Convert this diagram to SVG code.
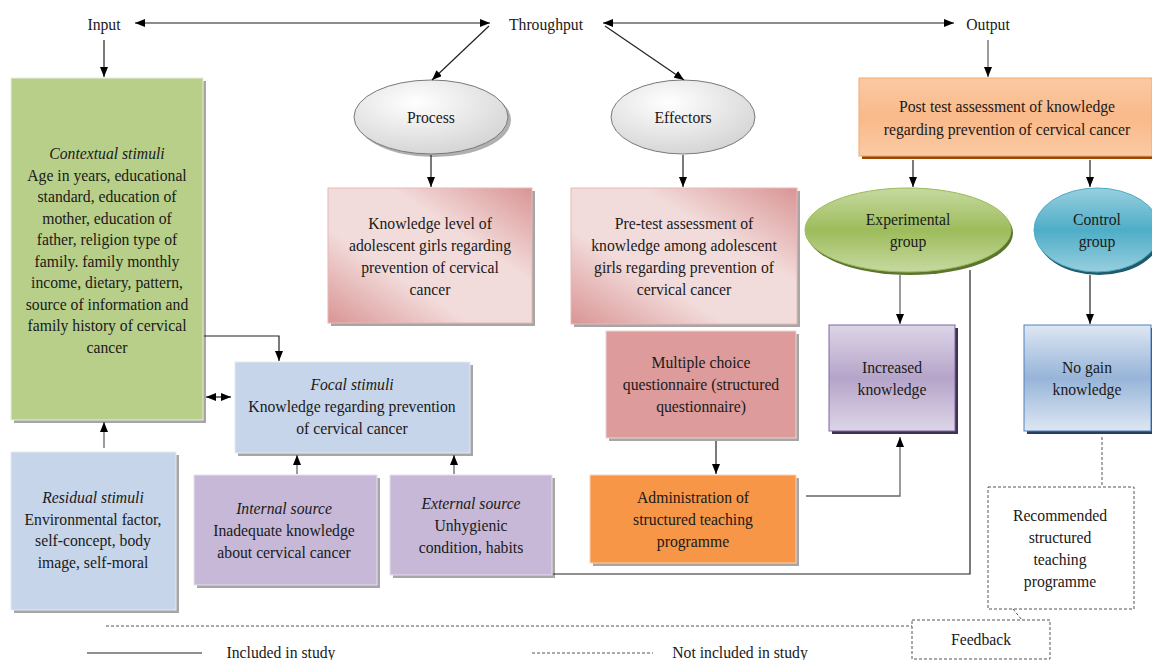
<svg xmlns="http://www.w3.org/2000/svg" width="1152" height="660" viewBox="0 0 1152 660">
<defs>
<style>
text{font-family:"Liberation Serif","Times New Roman",serif;font-size:15.7px;fill:#1a1a1a;text-anchor:middle}
.it{font-style:italic}
.ln{fill:none;stroke:#222;stroke-width:1.2}
.gl{fill:none;stroke:#666;stroke-width:1.3}
.dash{fill:none;stroke:#555;stroke-width:1;stroke-dasharray:3,2}
.sh{fill:#a6a6a6}
</style>
<marker id="ah" viewBox="0 0 10 8" refX="10" refY="4" markerWidth="10" markerHeight="8" markerUnits="userSpaceOnUse" orient="auto-start-reverse"><path d="M0,0 L10,4 L0,8 z" fill="#000"/></marker>
<radialGradient id="gEll" cx="0.4" cy="0.3" r="0.8"><stop offset="0" stop-color="#ffffff"/><stop offset="1" stop-color="#d0d0d0"/></radialGradient>
<linearGradient id="gPink" x1="0" y1="1" x2="1" y2="0"><stop offset="0" stop-color="#d99594"/><stop offset="0.35" stop-color="#f2dcdb"/><stop offset="0.65" stop-color="#f2dcdb"/><stop offset="1" stop-color="#d99594"/></linearGradient>
<linearGradient id="gPeach" x1="0" y1="0" x2="0" y2="1"><stop offset="0" stop-color="#fbcaa3"/><stop offset="0.5" stop-color="#f9b98a"/><stop offset="1" stop-color="#fbcaa3"/></linearGradient>
<linearGradient id="gPurp" x1="0" y1="0" x2="0" y2="1"><stop offset="0" stop-color="#ddd5e7"/><stop offset="0.5" stop-color="#b5a4c9"/><stop offset="1" stop-color="#ddd5e7"/></linearGradient>
<linearGradient id="gBlue" x1="0" y1="0" x2="0" y2="1"><stop offset="0" stop-color="#dde7f3"/><stop offset="0.5" stop-color="#97b4d8"/><stop offset="1" stop-color="#dde7f3"/></linearGradient>
<linearGradient id="gGreen" x1="0" y1="0" x2="0" y2="1"><stop offset="0" stop-color="#c6d9a0"/><stop offset="0.5" stop-color="#9dbc5b"/><stop offset="1" stop-color="#c6d9a0"/></linearGradient>
<linearGradient id="gCyan" x1="0" y1="0" x2="0" y2="1"><stop offset="0" stop-color="#98cfdf"/><stop offset="0.5" stop-color="#4eadc7"/><stop offset="1" stop-color="#98cfdf"/></linearGradient>
</defs>
<rect width="1152" height="660" fill="#fff"/>

<g id="labels-top" font-family="Liberation Serif, serif">
<text x="104" y="30">Input</text>
<text x="546" y="30">Throughput</text>
<text x="988" y="30">Output</text>
</g>

<g id="contextual" font-family="Liberation Serif, serif">
<rect class="sh" x="14" y="81" width="192" height="342" fill="#9fae86"/>
<rect x="11" y="78" width="192" height="342" fill="#b8cf8a" stroke="#e8eedd" stroke-width="1"/>
<text x="107" y="159"><tspan class="it">Contextual stimuli</tspan><tspan x="107" dy="21.5">Age in years, educational</tspan><tspan x="107" dy="21.5">standard, education of</tspan><tspan x="107" dy="21.5">mother, education of</tspan><tspan x="107" dy="21.5">father, religion type of</tspan><tspan x="107" dy="21.5">family. family monthly</tspan><tspan x="107" dy="21.5">income, dietary, pattern,</tspan><tspan x="107" dy="21.5">source of information and</tspan><tspan x="107" dy="21.5">family history of cervical</tspan><tspan x="107" dy="21.5">cancer</tspan></text>
</g>

<g id="residual" font-family="Liberation Serif, serif">
<rect class="sh" x="14" y="455" width="165" height="158" fill="#9aa5b2"/>
<rect x="11" y="452" width="165" height="158" fill="#c6d5e9" stroke="#e4ebf4" stroke-width="1"/>
<text x="93" y="503"><tspan class="it">Residual stimuli</tspan><tspan x="93" dy="21.5">Environmental factor,</tspan><tspan x="93" dy="21.5">self-concept, body</tspan><tspan x="93" dy="21.5">image, self-moral</tspan></text>
</g>

<g id="focal" font-family="Liberation Serif, serif">
<rect class="sh" x="238" y="365" width="235" height="91" fill="#9aa5b2"/>
<rect x="235" y="362" width="235" height="91" fill="#c6d5e9" stroke="#e4ebf4" stroke-width="1"/>
<text x="352" y="390"><tspan class="it">Focal stimuli</tspan><tspan x="352" dy="22">Knowledge regarding prevention</tspan><tspan x="352" dy="22">of cervical cancer</tspan></text>
</g>

<g id="internal" font-family="Liberation Serif, serif">
<rect class="sh" x="197" y="478" width="183" height="110" fill="#a49ab0"/>
<rect x="194" y="475" width="183" height="110" fill="#c6b8d6" stroke="#e6e0ee" stroke-width="1"/>
<text x="284" y="514"><tspan class="it">Internal source</tspan><tspan x="284" dy="22">Inadequate knowledge</tspan><tspan x="284" dy="22">about cervical cancer</tspan></text>
</g>

<g id="external" font-family="Liberation Serif, serif">
<rect class="sh" x="393" y="478" width="162" height="100" fill="#a49ab0"/>
<rect x="390" y="475" width="162" height="100" fill="#c6b8d6" stroke="#e6e0ee" stroke-width="1"/>
<text x="471" y="509"><tspan class="it">External source</tspan><tspan x="471" dy="22">Unhygienic</tspan><tspan x="471" dy="22">condition, habits</tspan></text>
</g>

<g id="process" font-family="Liberation Serif, serif">
<ellipse cx="434" cy="120" rx="77" ry="37" fill="#b0b0b0"/>
<ellipse cx="431" cy="117" rx="77" ry="37" fill="url(#gEll)" stroke="#7a7a7a" stroke-width="1"/>
<text x="431" y="123">Process</text>
</g>

<g id="effectors" font-family="Liberation Serif, serif">
<ellipse cx="683" cy="117" rx="72" ry="37" fill="url(#gEll)" stroke="#7a7a7a" stroke-width="1"/>
<text x="683" y="123">Effectors</text>
</g>

<g id="knowledge-level" font-family="Liberation Serif, serif">
<rect class="sh" x="331" y="191" width="204" height="135" fill="#b98a8a"/>
<rect x="328" y="188" width="204" height="135" fill="url(#gPink)" stroke="#e8b8b8" stroke-width="1"/>
<text x="430" y="229"><tspan>Knowledge level of</tspan><tspan x="430" dy="22">adolescent girls regarding</tspan><tspan x="430" dy="22">prevention of cervical</tspan><tspan x="430" dy="22">cancer</tspan></text>
</g>

<g id="pretest" font-family="Liberation Serif, serif">
<rect class="sh" x="574" y="191" width="226" height="136" fill="#b98a8a"/>
<rect x="571" y="188" width="226" height="136" fill="url(#gPink)" stroke="#e8b8b8" stroke-width="1"/>
<text x="684" y="229"><tspan>Pre-test assessment of</tspan><tspan x="684" dy="22">knowledge among adolescent</tspan><tspan x="684" dy="22">girls regarding prevention of</tspan><tspan x="684" dy="22">cervical cancer</tspan></text>
</g>

<g id="mcq" font-family="Liberation Serif, serif">
<rect class="sh" x="609" y="334" width="190" height="107" fill="#b08585"/>
<rect x="606" y="331" width="190" height="107" fill="#dd9b9b" stroke="#f2d4d4" stroke-width="1"/>
<text x="701" y="368"><tspan>Multiple choice</tspan><tspan x="701" dy="22">questionnaire (structured</tspan><tspan x="701" dy="22">questionnaire)</tspan></text>
</g>

<g id="administration" font-family="Liberation Serif, serif">
<rect class="sh" x="593" y="478" width="206" height="88" fill="#c9a58c"/>
<rect x="590" y="475" width="206" height="88" fill="#f79646" stroke="#fbd3b3" stroke-width="1"/>
<text x="693" y="503"><tspan>Administration of</tspan><tspan x="693" dy="22">structured teaching</tspan><tspan x="693" dy="22">programme</tspan></text>
</g>

<g id="posttest" font-family="Liberation Serif, serif">
<rect x="862" y="81" width="293" height="78" fill="#984806"/>
<rect x="859" y="78" width="293" height="78" fill="url(#gPeach)" stroke="#f6a86a" stroke-width="1"/>
<text x="1007" y="112"><tspan>Post test assessment of knowledge</tspan><tspan x="1007" dy="23">regarding prevention of cervical cancer</tspan></text>
</g>

<g id="experimental" font-family="Liberation Serif, serif">
<ellipse cx="910" cy="233" rx="103" ry="42" fill="#5d7430"/>
<ellipse cx="908" cy="230" rx="103" ry="42" fill="url(#gGreen)" stroke="#9bbb59" stroke-width="1"/>
<text x="908" y="225"><tspan>Experimental</tspan><tspan x="908" dy="22">group</tspan></text>
</g>

<g id="control" font-family="Liberation Serif, serif">
<ellipse cx="1099" cy="233" rx="63" ry="42" fill="#215a69"/>
<ellipse cx="1097" cy="230" rx="63" ry="42" fill="url(#gCyan)" stroke="#4bacc6" stroke-width="1"/>
<text x="1097" y="225"><tspan>Control</tspan><tspan x="1097" dy="22">group</tspan></text>
</g>

<g id="increased" font-family="Liberation Serif, serif">
<rect x="832" y="328" width="126" height="106" fill="#3f3151"/>
<rect x="829" y="325" width="126" height="106" fill="url(#gPurp)" stroke="#8064a2" stroke-width="1"/>
<text x="892" y="373"><tspan>Increased</tspan><tspan x="892" dy="22">knowledge</tspan></text>
</g>

<g id="nogain" font-family="Liberation Serif, serif">
<rect x="1027" y="328" width="127" height="106" fill="#243f60"/>
<rect x="1024" y="325" width="127" height="106" fill="url(#gBlue)" stroke="#4f81bd" stroke-width="1"/>
<text x="1087" y="373"><tspan>No gain</tspan><tspan x="1087" dy="22">knowledge</tspan></text>
</g>

<g id="recommended" font-family="Liberation Serif, serif">
<rect class="dash" x="988" y="487" width="146" height="122"/>
<text x="1060" y="521"><tspan>Recommended</tspan><tspan x="1060" dy="22">structured</tspan><tspan x="1060" dy="22">teaching</tspan><tspan x="1060" dy="22">programme</tspan></text>
</g>

<g id="feedback" font-family="Liberation Serif, serif">
<rect class="dash" x="912" y="620" width="138" height="39"/>
<text x="981" y="645">Feedback</text>
</g>

<g id="connectors">
<line class="gl" x1="135" y1="23" x2="490" y2="23" marker-start="url(#ah)" marker-end="url(#ah)"/>
<line class="gl" x1="603" y1="23" x2="954" y2="23" marker-start="url(#ah)" marker-end="url(#ah)"/>
<line class="ln" x1="489" y1="26" x2="432" y2="80" marker-end="url(#ah)"/>
<line class="ln" x1="605" y1="26" x2="684" y2="80" marker-end="url(#ah)"/>
<line class="ln" x1="104" y1="40" x2="104" y2="77" marker-end="url(#ah)"/>
<line class="gl" x1="988" y1="40" x2="988" y2="77" marker-end="url(#ah)"/>
<line class="ln" x1="431" y1="155" x2="431" y2="187" marker-end="url(#ah)"/>
<line class="ln" x1="683" y1="155" x2="683" y2="187" marker-end="url(#ah)"/>
<line class="ln" x1="913" y1="160" x2="913" y2="187" marker-end="url(#ah)"/>
<line class="ln" x1="1090" y1="160" x2="1090" y2="187" marker-end="url(#ah)"/>
<line class="gl" x1="900" y1="275" x2="900" y2="324" marker-end="url(#ah)"/>
<line class="ln" x1="1090" y1="275" x2="1090" y2="324" marker-end="url(#ah)"/>
<polyline class="ln" points="970,270 970,574 553,574"/>
<line class="ln" x1="716" y1="441" x2="716" y2="474" marker-end="url(#ah)"/>
<polyline class="gl" points="806,496 900,496 900,437" marker-end="url(#ah)"/>
<polyline class="ln" points="204,336 279,336 279,361" marker-end="url(#ah)"/>
<line class="ln" x1="206" y1="397" x2="231" y2="397" marker-start="url(#ah)" marker-end="url(#ah)"/>
<line class="gl" x1="104" y1="448" x2="104" y2="422" marker-end="url(#ah)"/>
<line class="gl" x1="297" y1="474" x2="297" y2="455" marker-end="url(#ah)"/>
<line class="gl" x1="454" y1="474" x2="454" y2="455" marker-end="url(#ah)"/>
<line class="dash" x1="1102" y1="437" x2="1102" y2="487"/>
<line class="dash" x1="1013" y1="609" x2="1022" y2="620"/>
<line class="dash" x1="106" y1="626" x2="912" y2="626"/>
</g>

<g id="legend" font-family="Liberation Serif, serif">
<line x1="87" y1="653" x2="202" y2="653" stroke="#222" stroke-width="1.2"/>
<text x="281" y="658">Included in study</text>
<line class="dash" x1="532" y1="653" x2="653" y2="653"/>
<text x="740" y="658">Not included in study</text>
</g>
</svg>
